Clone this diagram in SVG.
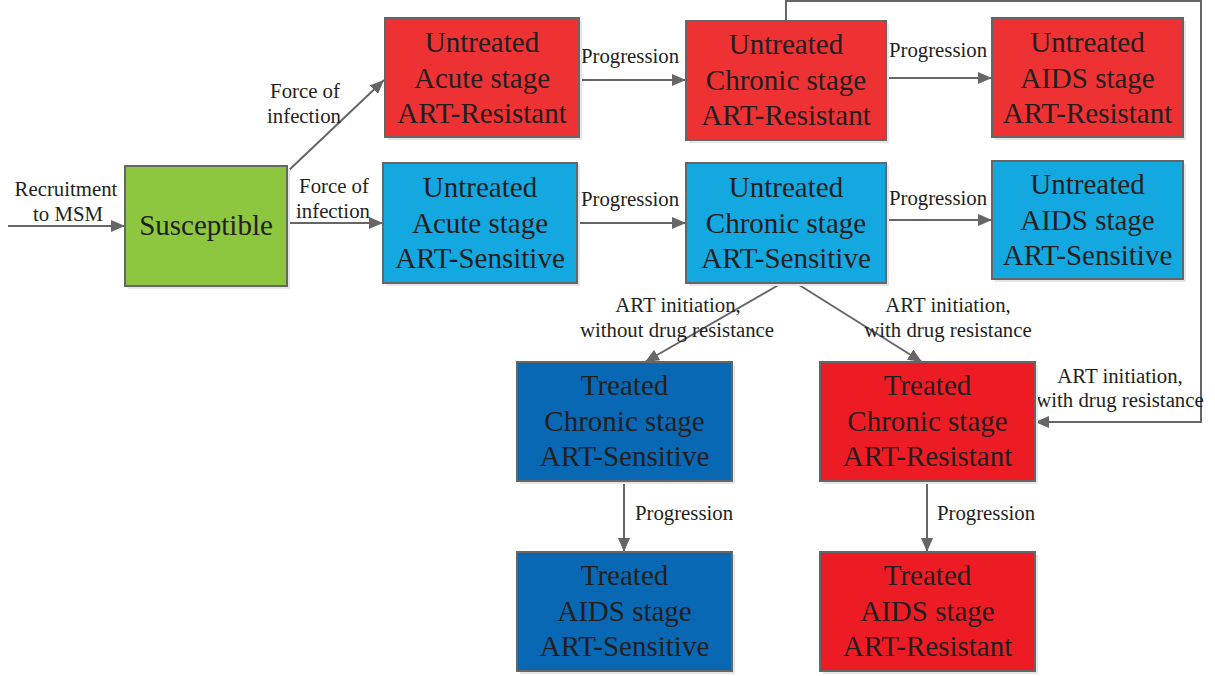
<svg xmlns="http://www.w3.org/2000/svg" width="1215" height="676" viewBox="0 0 1215 676">
<style>
.box{stroke:#666;stroke-width:2}
.sh{fill:#e6e6e6}
.red{fill:#ee3133}
.blue{fill:#13a8e0}
.green{fill:#8dc63f}
.tblue{fill:#0868b4}
.tred{fill:#ed1c24}
.t{font-family:"Liberation Serif","Times New Roman",serif;font-size:29px;fill:#231f20;text-anchor:middle}
.l{font-family:"Liberation Serif","Times New Roman",serif;font-size:20.8px;fill:#231f20;text-anchor:middle}
.c{stroke:#666;stroke-width:2;fill:none}
</style>
<defs>
<marker id="a" viewBox="0 0 14 12" refX="14" refY="6" markerWidth="14" markerHeight="12" orient="auto" markerUnits="userSpaceOnUse">
<path d="M0,0 L14,6 L0,12 z" fill="#666"/>
</marker>
</defs>

<g id="connectors">
<line class="c" x1="8" y1="226" x2="125" y2="226" marker-end="url(#a)"/>
<line class="c" x1="287" y1="172" x2="384" y2="80" marker-end="url(#a)"/>
<line class="c" x1="287" y1="223" x2="383" y2="223" marker-end="url(#a)"/>
<line class="c" x1="579" y1="80" x2="686" y2="80" marker-end="url(#a)"/>
<line class="c" x1="577" y1="223" x2="686" y2="223" marker-end="url(#a)"/>
<line class="c" x1="886" y1="78" x2="992" y2="78" marker-end="url(#a)"/>
<line class="c" x1="886" y1="220" x2="992" y2="220" marker-end="url(#a)"/>
<polyline class="c" points="786,21 786,1 1201,1 1201,422 1035,422" marker-end="url(#a)"/>
<line class="c" x1="782" y1="283" x2="645" y2="362" marker-end="url(#a)"/>
<line class="c" x1="796" y1="283" x2="922" y2="362" marker-end="url(#a)"/>
<line class="c" x1="624" y1="481" x2="624" y2="552" marker-end="url(#a)"/>
<line class="c" x1="927" y1="481" x2="927" y2="552" marker-end="url(#a)"/>
<text class="l" x="66" y="196">Recruitment</text>
<text class="l" x="68" y="221">to MSM</text>
<text class="l" x="305" y="98">Force of</text>
<text class="l" x="304" y="123">infection</text>
<text class="l" x="334" y="193">Force of</text>
<text class="l" x="333" y="218">infection</text>
<text class="l" x="630" y="63">Progression</text>
<text class="l" x="630" y="206">Progression</text>
<text class="l" x="938" y="57">Progression</text>
<text class="l" x="938" y="205">Progression</text>
<text class="l" x="678" y="312">ART initiation,</text>
<text class="l" x="677" y="337">without drug resistance</text>
<text class="l" x="948" y="312">ART initiation,</text>
<text class="l" x="948" y="337">with drug resistance</text>
<text class="l" x="1120" y="383">ART initiation,</text>
<text class="l" x="1120" y="407">with drug resistance</text>
<text class="l" x="684" y="520">Progression</text>
<text class="l" x="986" y="520">Progression</text>
</g>

<g id="susceptible">
<rect class="sh" x="128" y="169" width="162" height="120"/>
<rect class="box green" x="125" y="166" width="162" height="120"/>
<text class="t" x="206" y="235">Susceptible</text>
</g>

<g id="acute-resistant">
<rect class="sh" x="388" y="21" width="194" height="119"/>
<rect class="box red" x="385" y="18" width="194" height="119"/>
<text class="t" x="482" y="52">Untreated</text>
<text class="t" x="482" y="87.5">Acute stage</text>
<text class="t" x="482" y="123">ART-Resistant</text>
</g>

<g id="chronic-resistant">
<rect class="sh" x="689" y="24" width="200" height="119"/>
<rect class="box red" x="686" y="21" width="200" height="119"/>
<text class="t" x="786" y="54">Untreated</text>
<text class="t" x="786" y="89.5">Chronic stage</text>
<text class="t" x="786" y="125">ART-Resistant</text>
</g>

<g id="aids-resistant">
<rect class="sh" x="995" y="21" width="191" height="119"/>
<rect class="box red" x="992" y="18" width="191" height="119"/>
<text class="t" x="1087.5" y="52">Untreated</text>
<text class="t" x="1087.5" y="87.5">AIDS stage</text>
<text class="t" x="1087.5" y="123">ART-Resistant</text>
</g>

<g id="acute-sensitive">
<rect class="sh" x="386" y="166" width="194" height="120"/>
<rect class="box blue" x="383" y="163" width="194" height="120"/>
<text class="t" x="480" y="197">Untreated</text>
<text class="t" x="480" y="232.5">Acute stage</text>
<text class="t" x="480" y="268">ART-Sensitive</text>
</g>

<g id="chronic-sensitive">
<rect class="sh" x="689" y="166" width="200" height="120"/>
<rect class="box blue" x="686" y="163" width="200" height="120"/>
<text class="t" x="786" y="197">Untreated</text>
<text class="t" x="786" y="232.5">Chronic stage</text>
<text class="t" x="786" y="268">ART-Sensitive</text>
</g>

<g id="aids-sensitive">
<rect class="sh" x="995" y="164" width="191" height="118"/>
<rect class="box blue" x="992" y="161" width="191" height="118"/>
<text class="t" x="1087.5" y="194">Untreated</text>
<text class="t" x="1087.5" y="229.5">AIDS stage</text>
<text class="t" x="1087.5" y="265">ART-Sensitive</text>
</g>

<g id="treated-chronic-sensitive">
<rect class="sh" x="520" y="365" width="215" height="119"/>
<rect class="box tblue" x="517" y="362" width="215" height="119"/>
<text class="t" x="624.5" y="395">Treated</text>
<text class="t" x="624.5" y="431">Chronic stage</text>
<text class="t" x="624.5" y="466">ART-Sensitive</text>
</g>

<g id="treated-chronic-resistant">
<rect class="sh" x="823" y="365" width="215" height="119"/>
<rect class="box tred" x="820" y="362" width="215" height="119"/>
<text class="t" x="927.5" y="395">Treated</text>
<text class="t" x="927.5" y="431">Chronic stage</text>
<text class="t" x="927.5" y="466">ART-Resistant</text>
</g>

<g id="treated-aids-sensitive">
<rect class="sh" x="520" y="555" width="215" height="119"/>
<rect class="box tblue" x="517" y="552" width="215" height="119"/>
<text class="t" x="624.5" y="585">Treated</text>
<text class="t" x="624.5" y="621">AIDS stage</text>
<text class="t" x="624.5" y="656">ART-Sensitive</text>
</g>

<g id="treated-aids-resistant">
<rect class="sh" x="823" y="555" width="215" height="119"/>
<rect class="box tred" x="820" y="552" width="215" height="119"/>
<text class="t" x="927.5" y="585">Treated</text>
<text class="t" x="927.5" y="621">AIDS stage</text>
<text class="t" x="927.5" y="656">ART-Resistant</text>
</g>
</svg>
